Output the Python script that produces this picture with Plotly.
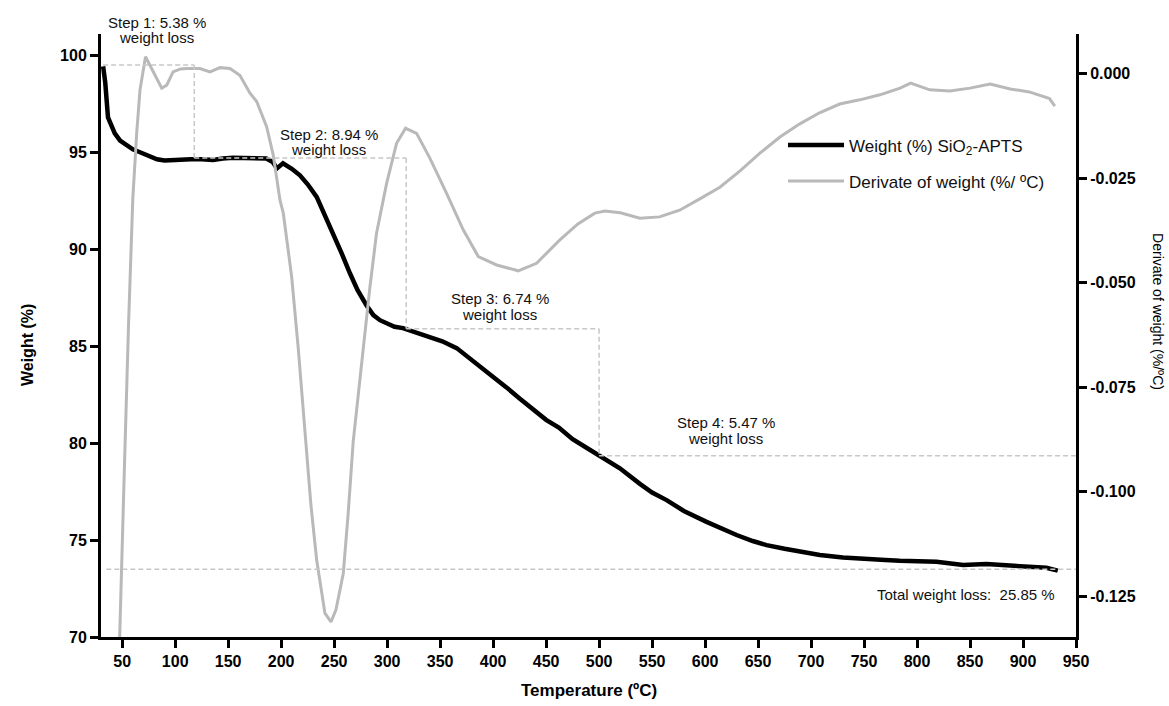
import plotly.graph_objects as go

# ---- TGA data: SiO2-APTS ----
temp_w = [32, 34, 36.6, 40, 43, 48, 54.5, 60, 66.8, 75, 82.8, 90, 95, 100, 107, 115, 125,
          135.7, 145, 154.5, 165, 175, 186, 192, 196, 201.7, 210, 217.7, 225, 233.5, 241,
          248.9, 257, 264.9, 272, 280.6, 287, 293.2, 300, 307, 314.9, 325, 340.4, 352,
          365.6, 380, 392, 400, 412, 425, 437, 450, 462, 475, 487, 500, 519.6, 538.5, 550,
          563.7, 580, 601.4, 615, 629.7, 645, 658, 675, 689.4, 708.3, 730, 752.3, 770,
          783.8, 800, 818.4, 830, 843.5, 865.5, 880, 897, 910, 922, 932.8]
weight = [99.43, 98.6, 96.8, 96.3, 95.98, 95.6, 95.36, 95.15, 95.0, 94.8, 94.64, 94.58,
          94.6, 94.62, 94.66, 94.64, 94.64, 94.6, 94.68, 94.72, 94.7, 94.7, 94.68, 94.5,
          94.17, 94.43, 94.15, 93.81, 93.35, 92.7, 91.8, 90.8, 89.8, 88.76, 87.9, 87.1,
          86.6, 86.34, 86.15, 86.0, 85.93, 85.75, 85.5, 85.25, 84.9, 84.3, 83.8, 83.45,
          82.9, 82.3, 81.8, 81.2, 80.8, 80.2, 79.8, 79.35, 78.7, 77.9, 77.45, 77.06, 76.5,
          75.94, 75.6, 75.26, 74.95, 74.74, 74.55, 74.4, 74.23, 74.1, 74.0, 73.97, 73.93,
          73.9, 73.88, 73.8, 73.71, 73.76, 73.7, 73.66, 73.62, 73.57, 73.42]

temp_d = [46.5, 47.5, 52, 56, 60, 63.7, 66.8, 72, 79, 87.3, 92, 98, 105, 110.8, 123.4,
          132.8, 142.3, 151.7, 161, 170.6, 176.9, 186.3, 192.5, 198.9, 202, 209.9, 216.1,
          222, 228, 233.5, 241.3, 247, 251.7, 258.6, 263, 268, 277.5, 283.8, 290, 299.5,
          308.9, 317.4, 327.8, 340.4, 356.1, 371.8, 386, 403.3, 423.7, 441, 463, 480, 496,
          505.5, 520, 538.5, 557, 576, 595, 614, 633, 652, 670.6, 689, 708, 727, 746, 765,
          784, 794, 812, 831, 850, 869, 888, 906, 925, 930]
deriv = [-0.145, -0.135, -0.095, -0.06, -0.030, -0.0142, -0.0039, 0.0040, 0.0004, -0.0035,
         -0.0028, 0.0004, 0.0011, 0.0012, 0.0012, 0.0004, 0.0014, 0.0012, -0.0004, -0.0047,
         -0.0067, -0.0127, -0.0195, -0.0303, -0.0334, -0.0486, -0.0657, -0.085, -0.103,
         -0.1164, -0.1291, -0.1312, -0.1283, -0.1196, -0.106, -0.088, -0.0657, -0.051,
         -0.0382, -0.0263, -0.0167, -0.0131, -0.0143, -0.0203, -0.0287, -0.0374, -0.0438,
         -0.0458, -0.0472, -0.0454, -0.0398, -0.036, -0.0334, -0.0329, -0.0333, -0.0346,
         -0.0343, -0.0327, -0.0300, -0.0272, -0.0233, -0.0190, -0.0152, -0.0121, -0.0094,
         -0.0073, -0.0063, -0.0051, -0.0035, -0.0023, -0.0039, -0.0042, -0.0035, -0.0025,
         -0.0037, -0.0044, -0.0060, -0.0078]

# ---- weight-loss steps ----
step_names = ["Step 1", "Step 2", "Step 3", "Step 4"]
step_loss = [5.38, 8.94, 6.74, 5.47]
step_temp = [118, 318, 500, 950]              # end temperature of each step
step_level = [99.5, 94.7, 85.9, 79.35, 73.5]  # weight level at each boundary
total_loss = 25.85

x_ticks = list(range(50, 951, 50))
y_ticks = [70, 75, 80, 85, 90, 95, 100]
y2_ticks = [0.0, -0.025, -0.050, -0.075, -0.100, -0.125]

FONT = "Liberation Sans, Arial, sans-serif"
GUIDE = dict(color="#c8c8c8", width=1.5, dash="5px,3px")

fig = go.Figure()

fig.add_trace(go.Scatter(
    x=temp_d, y=deriv, yaxis="y2", mode="lines",
    name="Derivate of weight (%/ ºC)", legendgroup="d", legendrank=2,
    line=dict(color="#b9b9b9", width=3),
))
fig.add_trace(go.Scatter(
    x=temp_w, y=weight, mode="lines",
    name="Weight (%) SiO<sub>2</sub>-APTS", legendgroup="w", legendrank=1,
    line=dict(color="#000000", width=4.5),
))

# dashed guide lines marking the steps
shapes = []
start_t = 32
for i in range(4):
    t0 = start_t if i == 0 else step_temp[i - 1]
    shapes.append(dict(type="line", xref="x", yref="y", x0=t0, x1=step_temp[i],
                       y0=step_level[i], y1=step_level[i], line=GUIDE, layer="above"))
    if i < 3:
        shapes.append(dict(type="line", xref="x", yref="y", x0=step_temp[i], x1=step_temp[i],
                           y0=step_level[i], y1=step_level[i + 1], line=GUIDE, layer="above"))
shapes.append(dict(type="line", xref="x", yref="y", x0=35, x1=950,
                   y0=step_level[4], y1=step_level[4], line=GUIDE, layer="above"))

# step labels (two lines each); vertical positions in paper units
label_pos = [(82.8, 1.0199, 0.9950), (245, 0.834, 0.808), (406.4, 0.561, 0.535), (619.6, 0.356, 0.330)]
TXT = dict(size=15, color="#111", family=FONT)
annotations = []
for name, loss, (lx, ly1, ly2) in zip(step_names, step_loss, label_pos):
    annotations.append(dict(x=lx, y=ly1, xref="x", yref="paper", xanchor="center", yanchor="middle",
                            text=f"{name}: {loss:.2f} %", showarrow=False, font=TXT))
    annotations.append(dict(x=lx, y=ly2, xref="x", yref="paper", xanchor="center", yanchor="middle",
                            text="weight loss", showarrow=False, font=TXT))
annotations.append(dict(x=932, y=0.071, xref="x", yref="paper", xanchor="right", yanchor="middle",
                        text=f"Total weight loss:\u00a0 {total_loss:.2f} %",
                        showarrow=False, font=TXT))

# axis titles
annotations.append(dict(x=0.5, y=-0.088, xref="paper", yref="paper", xanchor="center",
                        yanchor="middle", text="<b>Temperature (ºC)</b>", showarrow=False,
                        font=dict(size=17, color="#000", family=FONT)))
annotations.append(dict(x=-0.076, y=0.484, xref="paper", yref="paper", xanchor="center",
                        yanchor="middle", text="<b>Weight (%)</b>", textangle=-90,
                        showarrow=False, font=dict(size=16, color="#000", family=FONT)))
annotations.append(dict(x=1.084, y=0.539, xref="paper", yref="paper", xanchor="center",
                        yanchor="middle", text="Derivate of weight (%/ºC)", textangle=90,
                        showarrow=False, font=dict(size=14, color="#000", family=FONT)))

axis_common = dict(showgrid=False, zeroline=False, showline=True, linecolor="#000",
                   linewidth=3, ticks="outside", ticklen=8, tickwidth=3, tickcolor="#000",
                   tickfont=dict(size=16, family=FONT, color="#000", weight="bold"))

fig.update_layout(
    width=1169, height=706,
    margin=dict(l=101, r=93, t=34, b=69),
    paper_bgcolor="white", plot_bgcolor="white",
    font=dict(family=FONT, color="#000"),
    xaxis=dict(range=[30, 950], tickvals=x_ticks, **axis_common),
    yaxis=dict(range=[70, 101.1], tickvals=y_ticks, **axis_common),
    yaxis2=dict(range=[-0.1348, 0.00945], overlaying="y", side="right", tickvals=y2_ticks,
                ticktext=[f"{v:.3f}" for v in y2_ticks], **axis_common),
    legend=dict(x=0.6995, y=0.845, xanchor="left", yanchor="top", bgcolor="rgba(0,0,0,0)",
                font=dict(size=17, family=FONT, color="#111"), tracegroupgap=11,
                itemwidth=56),
    shapes=shapes,
    annotations=annotations,
)

fig.write_html("out.html")
